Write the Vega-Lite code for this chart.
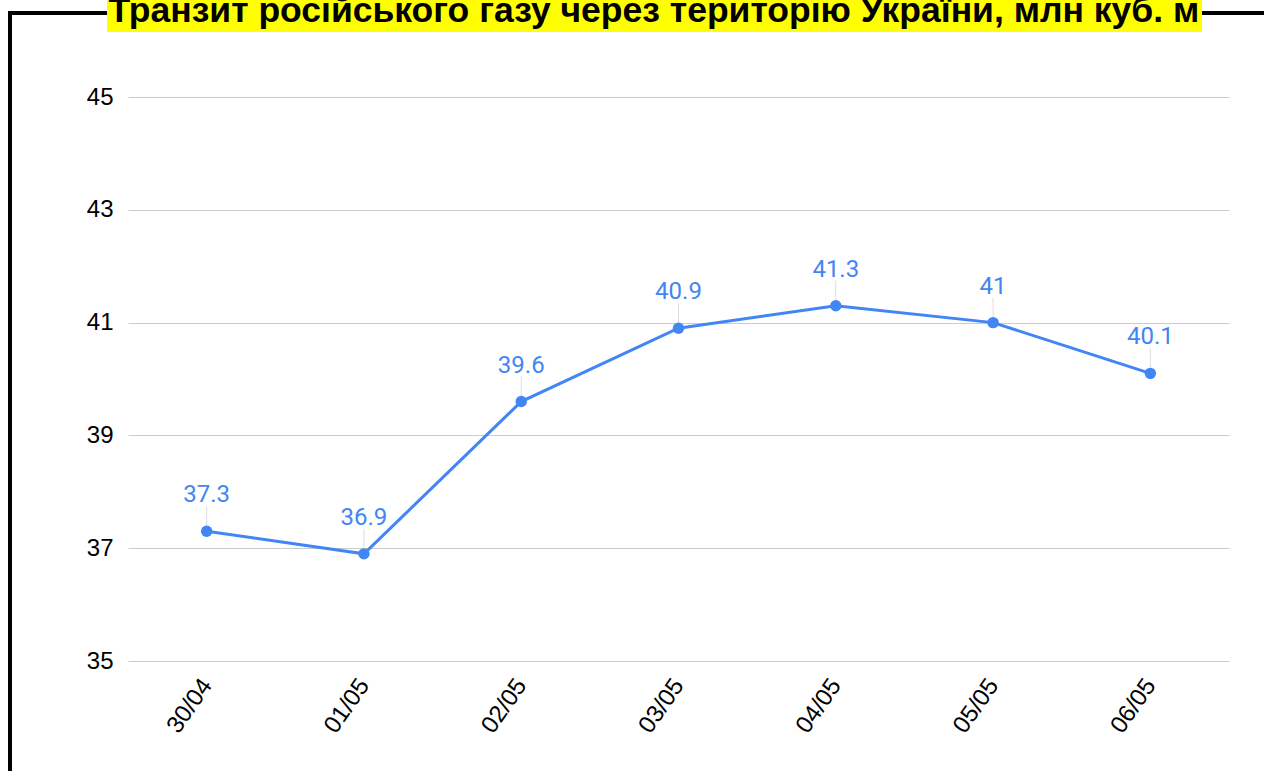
{
  "$schema": "https://vega.github.io/schema/vega-lite/v6.json",
  "autosize": {"type": "none"},
  "width": 1101,
  "height": 564,
  "padding": {"left": 128, "top": 97, "right": 35, "bottom": 110},
  "background": "white",
  "data": {
    "values": [
      {"date": "30/04", "value": 37.3, "series": "Транзит російського газу через територію України, млн куб. м", "chart": " "},
      {"date": "01/05", "value": 36.9, "series": "Транзит російського газу через територію України, млн куб. м", "chart": " "},
      {"date": "02/05", "value": 39.6, "series": "Транзит російського газу через територію України, млн куб. м", "chart": " "},
      {"date": "03/05", "value": 40.9, "series": "Транзит російського газу через територію України, млн куб. м", "chart": " "},
      {"date": "04/05", "value": 41.3, "series": "Транзит російського газу через територію України, млн куб. м", "chart": " "},
      {"date": "05/05", "value": 41, "series": "Транзит російського газу через територію України, млн куб. м", "chart": " "},
      {"date": "06/05", "value": 40.1, "series": "Транзит російського газу через територію України, млн куб. м", "chart": " "}
    ]
  },
  "encoding": {
    "x": {
      "field": "date", "type": "ordinal", "sort": null,
      "scale": {"type": "point", "padding": 0.5},
      "axis": {
        "title": null, "domain": false, "ticks": false, "grid": false,
        "labelAngle": -55, "labelAlign": "right", "labelBaseline": "middle",
        "labelFont": "Liberation Sans", "labelFontSize": 24, "labelColor": "black",
        "labelPadding": 20
      }
    },
    "y": {
      "field": "value", "type": "quantitative",
      "scale": {"domain": [35, 45], "nice": false, "zero": false},
      "axis": {
        "title": null, "domain": false, "ticks": false,
        "values": [35, 37, 39, 41, 43, 45],
        "gridColor": "#cccccc", "gridWidth": 1,
        "labelFont": "Liberation Sans", "labelFontSize": 24, "labelColor": "black",
        "labelPadding": 15
      }
    }
  },
  "layer": [
    {
      "mark": {"type": "rule", "color": "#dddddd", "strokeWidth": 1, "yOffset": -5, "y2Offset": -25},
      "encoding": {"y2": {"field": "value"}}
    },
    {
      "mark": {"type": "line", "strokeWidth": 3},
      "encoding": {
        "color": {
          "field": "series", "type": "nominal",
          "scale": {"range": ["#4285F4"]},
          "legend": {
            "title": null, "orient": "none", "legendX": -21, "legendY": -106,
            "fillColor": "#ffff00", "padding": 2, "zindex": 2,
            "symbolType": "circle", "symbolOpacity": 0, "symbolSize": 0, "symbolStrokeWidth": 0,
            "labelOffset": -36, "labelLimit": 0,
            "labelFont": "Liberation Sans", "labelFontSize": 35.5, "labelFontWeight": "bold",
            "labelColor": "black"
          }
        }
      }
    },
    {
      "mark": {"type": "point", "filled": true, "opacity": 1, "color": "#4285F4", "size": 130},
      "encoding": {
        "shape": {
          "field": "chart", "type": "nominal",
          "scale": {"range": ["circle"]},
          "legend": {
            "title": null, "orient": "none", "legendX": -118, "legendY": -84,
            "strokeColor": "black", "padding": 700, "zindex": 1,
            "symbolOpacity": 0, "symbolSize": 0, "symbolStrokeWidth": 0,
            "labelOffset": 0, "labelFontSize": 1, "labelOpacity": 0
          }
        }
      }
    },
    {
      "mark": {"type": "text", "color": "#4285F4", "font": "Roboto", "fontSize": 24, "dy": -29, "baseline": "alphabetic"},
      "encoding": {"text": {"field": "value", "type": "quantitative"}}
    }
  ],
  "resolve": {"legend": {"color": "independent", "shape": "independent"}},
  "config": {"view": {"stroke": null}, "legend": {"strokeWidth": 4}}
}
